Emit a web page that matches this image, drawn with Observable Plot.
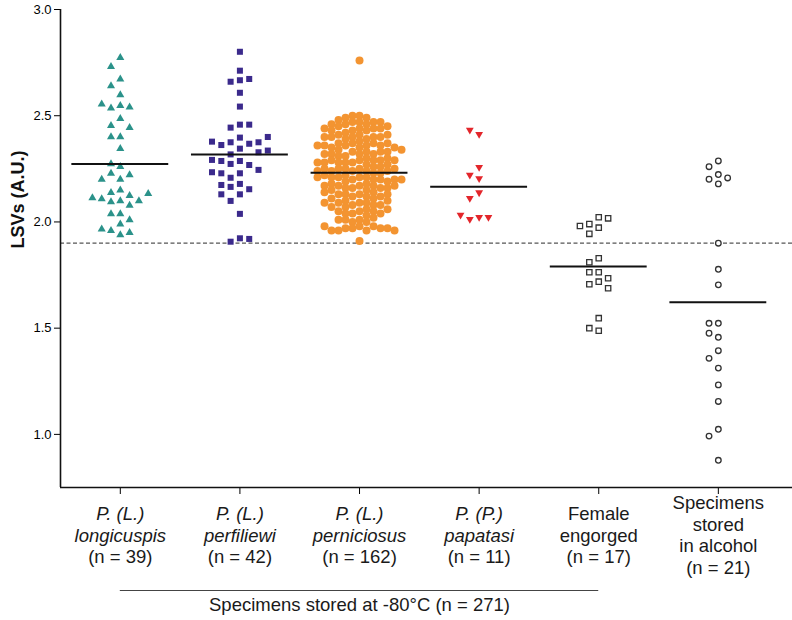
<!DOCTYPE html>
<html><head><meta charset="utf-8">
<script src="https://cdn.jsdelivr.net/npm/d3@7"></script>
<script src="https://cdn.jsdelivr.net/npm/@observablehq/plot@0.6"></script>
<style>
body{margin:0;background:#fff;}
#chart svg{display:block;}
</style>
</head><body><div id="chart"></div>
<script>
// ---- data ----
const categories = ["longicuspis", "perfiliewi", "perniciosus", "papatasi", "engorged", "alcohol"];
const labelLines = [
  ["P. (L.)", "longicuspis", "(n = 39)"],
  ["P. (L.)", "perfiliewi", "(n = 42)"],
  ["P. (L.)", "perniciosus", "(n = 162)"],
  ["P. (P.)", "papatasi", "(n = 11)"],
  ["Female", "engorged", "(n = 17)"],
  ["Specimens", "stored", "in alcohol", "(n = 21)"]
];
const italicCount = [2, 2, 2, 2, 0, 0];
const yTicks = [1.0, 1.5, 2.0, 2.5, 3.0];
const yLabel = "LSVs (A.U.)";
const groupLabel = "Specimens stored at -80°C (n = 271)";
const groupSpan = [0, 4];
const threshold = 1.90;
const means = [2.273, 2.318, 2.232, 2.166, 1.790, 1.622];

const longicuspis = [2.773, 2.731, 2.672, 2.640, 2.598, 2.547, 2.536, 2.540, 2.554, 2.486, 2.453, 2.444, 2.400, 2.400, 2.345, 2.260, 2.273, 2.229, 2.221, 2.200, 2.200, 2.150, 2.138, 2.124, 2.108, 2.099, 2.094, 2.099, 2.113, 2.133, 2.078, 2.038, 2.038, 2.009, 1.990, 1.959, 1.939, 1.950, 1.966];
const perfiliewi = [2.801, 2.712, 2.667, 2.660, 2.673, 2.608, 2.543, 2.458, 2.444, 2.458, 2.397, 2.375, 2.368, 2.345, 2.362, 2.375, 2.378, 2.400, 2.318, 2.328, 2.336, 2.287, 2.273, 2.268, 2.287, 2.292, 2.245, 2.229, 2.208, 2.229, 2.234, 2.179, 2.165, 2.154, 2.174, 2.130, 2.130, 2.099, 2.038, 1.923, 1.907, 1.920];
const perniciosus = [2.76,
  2.50, 2.50, 2.49, 2.49,
  2.47, 2.47, 2.46, 2.47, 2.48, 2.46, 2.47, 2.46,
  2.44, 2.45, 2.43, 2.44, 2.45, 2.43, 2.44, 2.42, 2.43, 2.44,
  2.41, 2.40, 2.39, 2.40, 2.41, 2.40, 2.39, 2.41, 2.40, 2.38, 2.40,
  2.37, 2.36, 2.37, 2.35, 2.36, 2.37, 2.36, 2.35, 2.37, 2.36, 2.35, 2.36,
  2.33, 2.32, 2.33, 2.31, 2.32, 2.34, 2.33, 2.32, 2.31, 2.33, 2.32, 2.34,
  2.29, 2.28, 2.30, 2.29, 2.28, 2.27, 2.29, 2.30, 2.28, 2.29, 2.27, 2.28, 2.29, 2.28,
  2.25, 2.24, 2.26, 2.25, 2.24, 2.23, 2.25, 2.26, 2.24, 2.25, 2.23, 2.24, 2.25, 2.24,
  2.21, 2.20, 2.22, 2.21, 2.20, 2.19, 2.21, 2.22, 2.20, 2.21, 2.19, 2.20, 2.21, 2.20,
  2.17, 2.16, 2.18, 2.17, 2.16, 2.15, 2.17, 2.18, 2.16, 2.17, 2.15, 2.16, 2.17,
  2.13, 2.12, 2.14, 2.13, 2.12, 2.11, 2.13, 2.14, 2.12, 2.13, 2.11,
  2.09, 2.08, 2.10, 2.09, 2.08, 2.07, 2.09, 2.10, 2.08, 2.09, 2.07,
  2.05, 2.04, 2.06, 2.05, 2.04, 2.03, 2.05, 2.06, 2.04,
  2.01, 2.00, 2.02, 2.01, 2.00, 2.01,
  1.98, 1.97, 1.96, 1.97, 1.98, 1.96, 1.97, 1.96, 1.97, 1.98, 1.96,
  1.91];
const papatasi = [2.413, 2.433, 2.257, 2.205, 2.221, 2.138, 2.111, 2.022, 2.013, 2.022, 2.033];
const engorged = [2.022, 1.990, 2.017, 1.981, 1.973, 1.944, 1.829, 1.810, 1.763, 1.763, 1.735, 1.719, 1.707, 1.688, 1.547, 1.488, 1.500];
const alcohol = [2.287, 2.260, 2.223, 2.201, 2.179, 2.207, 1.900, 1.777, 1.704, 1.523, 1.523, 1.457, 1.476, 1.394, 1.358, 1.312, 1.233, 1.155, 1.024, 0.992, 0.878];

const seriesValues = [longicuspis, perfiliewi, perniciosus, papatasi, engorged, alcohol];

// ---- layout ----
const W = 792, H = 620;
const mt = 9, mb = 133, ml = 60, mr = 0;
const xDomain = [-0.5, 5.62];
const yDomain = [0.75, 3.0];
const pxX = (W - ml - mr) / (xDomain[1] - xDomain[0]);
const pxY = (H - mt - mb) / (yDomain[1] - yDomain[0]);

// Prism-like column scatter: greedy placement in discrete columns
function scatterOffsets(values, stepPx, gapPx) {
  const placed = [];
  return values.map(v => {
    const py = v * pxY;
    for (let k = 0; k < 60; k++) {
      const cols = k === 0 ? [0] : [-k, k];
      for (const c of cols) {
        if (!placed.some(p => p.c === c && Math.abs(p.py - py) < gapPx)) {
          placed.push({c, py});
          return c * stepPx / pxX;
        }
      }
    }
    return 0;
  });
}

const triangleDown = {
  draw(context, size) {
    const s3 = Math.sqrt(3);
    const y = -Math.sqrt(size / (s3 * 3));
    context.moveTo(0, -y * 2);
    context.lineTo(-s3 * y, y);
    context.lineTo(s3 * y, y);
    context.closePath();
  }
};

const styles = [
  {symbol: "triangle", fill: "#2b928a", stroke: "none", r: 3.0, step: 9.3, gap: 9},
  {symbol: "square", fill: "#3b2a8c", stroke: "none", r: 3.4, step: 9.3, gap: 9},
  {symbol: "circle", fill: "#f39431", stroke: "none", r: 4.0, step: 7.0, gap: 6.2},
  {symbol: triangleDown, fill: "#e3262b", stroke: "none", r: 2.9, step: 9.3, gap: 9},
  {symbol: "square", fill: "white", stroke: "#333", r: 3.0, step: 9.4, gap: 9, sw: 1.3},
  {symbol: "circle", fill: "white", stroke: "#333", r: 2.8, step: 9.3, gap: 9, sw: 1.3}
];

const pointMarks = seriesValues.map((vals, i) => {
  const st = styles[i];
  const offs = scatterOffsets(vals, st.step, st.gap);
  const rows = vals.map((v, j) => ({i, v, x: i + offs[j]}));
  return Plot.dot(rows, {
    x: "x", y: "v", symbol: st.symbol, r: st.r,
    fill: st.fill, stroke: st.stroke, strokeWidth: st.sw || 0
  });
});

const meanRows = means.map((m, i) => ({i, m}));

// category labels below axis
const lineH = 21.7;
const labelCenter = 54;
const labelMarks = [];
labelLines.forEach((lines, i) => {
  const n = lines.length;
  lines.forEach((t, j) => {
    labelMarks.push(Plot.text([{i, t}], {
      x: "i", text: "t", frameAnchor: "bottom",
      dy: labelCenter + (j - (n - 1) / 2) * lineH,
      fontSize: 18.5, fill: "#1a1a1a",
      fontStyle: j < italicCount[i] ? "italic" : "normal"
    }));
  });
});

const chart = Plot.plot({
  width: W, height: H,
  marginTop: mt, marginBottom: mb, marginLeft: ml, marginRight: mr,
  style: {fontFamily: "'Liberation Sans', Arial, sans-serif", background: "white"},
  x: {domain: xDomain, axis: "bottom", ticks: [0, 1, 2, 3, 4, 5], tickFormat: () => "", tickSize: 7, label: null},
  y: {domain: yDomain, ticks: yTicks, tickFormat: d3.format(".1f"), tickSize: 6, tickPadding: 3, label: null},
  marks: [
    Plot.ruleY([threshold], {stroke: "#555", strokeWidth: 1.2, strokeDasharray: "4,2.5"}),
    ...pointMarks,
    Plot.ruleY(meanRows, {x1: d => d.i - 0.405, x2: d => d.i + 0.405, y: "m", stroke: "#111", strokeWidth: 2}),
    Plot.ruleX([xDomain[0]], {stroke: "#111", strokeWidth: 1.6}),
    Plot.ruleY([yDomain[0]], {stroke: "#111", strokeWidth: 1.6}),
    Plot.text([yLabel], {text: d => d, frameAnchor: "left", dx: -42, rotate: -90, fontSize: 18, fontWeight: "bold", fill: "#111"}),
    ...labelMarks,
    Plot.ruleY([yDomain[0]], {x1: groupSpan[0], x2: groupSpan[1], dy: 103, stroke: "#444", strokeWidth: 1.2}),
    Plot.text([groupLabel], {x: (groupSpan[0] + groupSpan[1]) / 2, text: d => d, frameAnchor: "bottom", dy: 123, fontSize: 18.5, fill: "#1a1a1a"})
  ]
});
chart.style.fontSize = "13px";
document.getElementById("chart").append(chart);
</script>
</body></html>
